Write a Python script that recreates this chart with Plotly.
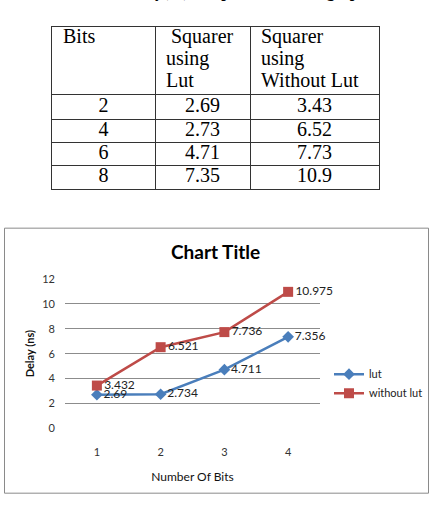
import plotly.graph_objects as go

# ---------------- data ----------------
table_bits = ["2", "4", "6", "8"]
table_lut = ["2.69", "2.73", "4.71", "7.35"]
table_without = ["3.43", "6.52", "7.73", "10.9"]
table_header_lines = [
    ["Bits"],
    ["\u00a0Squarer", "using", "Lut"],
    ["Squarer", "using", "Without Lut"],
]

x_bits = [1, 2, 3, 4]
lut = [2.69, 2.734, 4.711, 7.356]
without_lut = [3.432, 6.521, 7.736, 10.975]
lut_labels = ["2.69", "2.734", "4.711", "7.356"]
without_labels = ["3.432", "6.521", "7.736", "10.975"]
y_ticks = [0, 2, 4, 6, 8, 10, 12]

# ---------------- layout constants ----------------
W, H = 434, 506

def px_x(p):
    return p / W

def px_y(p):
    return 1 - p / H

SERIF = "Liberation Serif, Times New Roman, serif"
SANS = "Lato, Carlito, Calibri, sans-serif"

# table geometry (in table-axis units == pixels)
col_edges = [0, 103, 198, 327]
row_edges = [0, 69, 94, 118, 142, 166]
TBL_LEFT, TBL_TOP = 52, 21
HEAD_PAD_X = 11
HEAD_FIRST_Y = 11.3
HEAD_LINE_GAP = 22.5
CELL_TEXT_SHIFT = 0
TBL_FONT = 20

fig = go.Figure()

# ---------------- table (text on its own axes) ----------------
columns = [table_bits, table_lut, table_without]
col_centers = [(col_edges[j] + col_edges[j + 1]) / 2 for j in range(3)]
row_centers = [(row_edges[i] + row_edges[i + 1]) / 2 + CELL_TEXT_SHIFT
               for i in range(1, len(row_edges) - 1)]

for j, col in enumerate(columns):
    fig.add_trace(go.Scatter(
        x=[col_centers[j]] * len(col), y=row_centers[:len(col)],
        text=col, mode="text", textposition="middle center",
        textfont=dict(family=SERIF, size=TBL_FONT, color="black"),
        xaxis="x2", yaxis="y2", showlegend=False, hoverinfo="skip",
    ))

hx, hy, ht = [], [], []
for j, lines in enumerate(table_header_lines):
    for k, line in enumerate(lines):
        hx.append(col_edges[j] + HEAD_PAD_X)
        hy.append(HEAD_FIRST_Y + k * HEAD_LINE_GAP)
        ht.append(line)
fig.add_trace(go.Scatter(
    x=hx, y=hy, text=ht, mode="text", textposition="middle right",
    textfont=dict(family=SERIF, size=TBL_FONT, color="black"),
    xaxis="x2", yaxis="y2", showlegend=False, hoverinfo="skip",
))

# ---------------- chart ----------------
fig.add_trace(go.Scatter(
    x=x_bits, y=lut, name="lut", mode="lines+markers+text",
    line=dict(color="#4A7EBB", width=2.5),
    marker=dict(symbol="diamond", size=9, color="#4A7EBB"),
    text=lut_labels, textposition="middle right", cliponaxis=False,
    textfont=dict(family=SANS, size=12, color="#222222"),
    xaxis="x", yaxis="y",
))
fig.add_trace(go.Scatter(
    x=x_bits, y=without_lut, name="without lut", mode="lines+markers+text",
    line=dict(color="#BE4B48", width=2.5),
    marker=dict(symbol="square", size=10, color="#BE4B48"),
    text=without_labels, textposition="middle right", cliponaxis=False,
    textfont=dict(family=SANS, size=12, color="#222222"),
    xaxis="x", yaxis="y",
))

fig.update_layout(
    width=W, height=H,
    margin=dict(l=0, r=0, t=0, b=0),
    paper_bgcolor="white", plot_bgcolor="rgba(0,0,0,0)",
    showlegend=True,
    legend=dict(
        x=px_x(329), y=px_y(362), xanchor="left", yanchor="top",
        font=dict(family=SANS, size=11, color="#222222"),
        bgcolor="rgba(0,0,0,0)", tracegroupgap=0, itemwidth=30,
    ),
    xaxis=dict(
        domain=[px_x(65), px_x(320)], range=[0.5, 4.5],
        tickvals=x_bits, ticktext=[str(v) for v in x_bits],
        showgrid=False, zeroline=False, showline=False, ticks="",
        ticklabelstandoff=16,
        tickfont=dict(family=SANS, size=11, color="#333333"),
        title=dict(text="Number Of Bits", font=dict(family=SANS, size=12, color="#111111"), standoff=15),
        fixedrange=True,
    ),
    yaxis=dict(
        domain=[px_y(432.3), px_y(279.3)], range=[0, 12],
        tickvals=y_ticks, showgrid=True, gridcolor="#8C8C8C", gridwidth=1,
        zeroline=False, showline=False, ticks="", ticklabelstandoff=9,
        tickfont=dict(family=SANS, size=11, color="#333333"),
        title=dict(text="<b>Delay (ns)</b>", font=dict(family=SANS, size=11, color="#111111"), standoff=5),
        fixedrange=True,
    ),
    xaxis2=dict(
        domain=[px_x(TBL_LEFT), px_x(TBL_LEFT + col_edges[-1])], range=[0, col_edges[-1]],
        anchor="y2", tickvals=col_edges[1:-1], showticklabels=False, ticks="",
        showgrid=True, gridcolor="#333333", gridwidth=1, zeroline=False,
        showline=True, mirror=True, linecolor="#333333", linewidth=1, fixedrange=True,
    ),
    yaxis2=dict(
        domain=[px_y(TBL_TOP + row_edges[-1]), px_y(TBL_TOP)], range=[row_edges[-1], 0],
        anchor="x2", tickvals=row_edges[1:-1], showticklabels=False, ticks="",
        showgrid=True, gridcolor="#333333", gridwidth=1, zeroline=False,
        showline=True, mirror=True, linecolor="#333333", linewidth=1, fixedrange=True,
    ),
    shapes=[
        dict(type="rect", xref="paper", yref="paper",
             x0=px_x(4.5), x1=px_x(428.5), y0=px_y(499), y1=px_y(227),
             line=dict(color="#8A8A8A", width=1), fillcolor="rgba(0,0,0,0)", layer="below"),
    ],
    annotations=[
        dict(text="<b>Chart Title</b>", xref="paper", yref="paper",
             x=px_x(215), y=px_y(251), xanchor="center", yanchor="middle",
             showarrow=False, font=dict(family=SANS, size=19, color="black")),
        dict(text="<b>Table: Delay(ns) comparison and its graph</b>", xref="paper", yref="paper",
             x=px_x(222), y=px_y(-4), xanchor="center", yanchor="bottom",
             showarrow=False, font=dict(family=SERIF, size=16, color="black")),
    ],
)

fig.write_html("out.html")
